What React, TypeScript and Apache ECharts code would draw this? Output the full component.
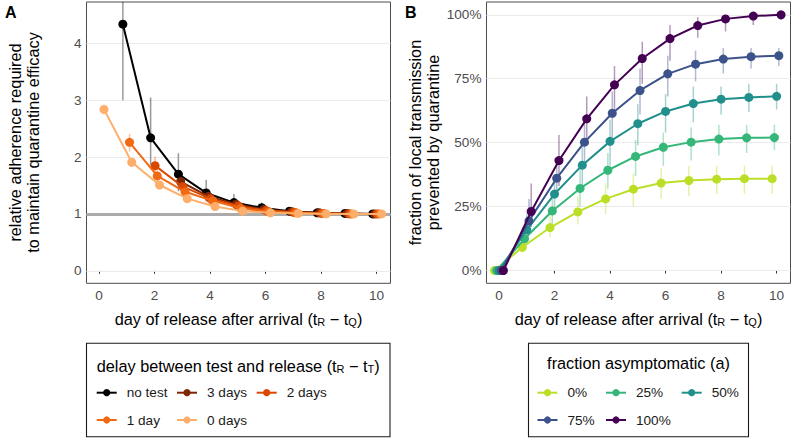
import React, { useEffect, useRef } from "react";
import * as echarts from "echarts";

// ---------- data ----------
const DAYS = [0, 1, 2, 3, 4, 5, 6, 7, 8, 9, 10];
const X_TICKS = [0, 2, 4, 6, 8, 10];
const A_Y_TICKS = [0, 1, 2, 3, 4];
const B_Y_TICKS = [0, 0.25, 0.5, 0.75, 1];
const B_Y_LABELS = ["0%", "25%", "50%", "75%", "100%"];
const A_REFERENCE = 1;

// Panel A: relative adherence required, by delay between test and release
const DELAY_NAMES = ["no test", "3 days", "2 days", "1 day", "0 days"];
const DELAY_COLORS = ["#000000", "#7F2704", "#D94801", "#F16913", "#FDAE6B"];
const ADH_NO_TEST = [null, 4.34, 2.34, 1.7, 1.37, 1.2, 1.11, 1.05, 1.02, 1.01, 1.0];
const ADH_NO_TEST_LO = [null, 3.0, 1.86, 1.4, 1.22, 1.12, 1.06, 1.02, 1.01, 1.0, 1.0];
const ADH_NO_TEST_HI = [null, 4.8, 3.05, 2.07, 1.6, 1.35, 1.2, 1.1, 1.05, 1.02, 1.01];
const ADH_3D = [null, null, null, 1.57, 1.31, 1.17, 1.08, 1.04, 1.02, 1.01, 1.0];
const ADH_3D_LO = [null, null, null, 1.45, 1.24, 1.12, 1.05, 1.02, 1.01, 1.0, 1.0];
const ADH_3D_HI = [null, null, null, 1.72, 1.4, 1.23, 1.12, 1.06, 1.03, 1.02, 1.01];
const ADH_2D = [null, null, 1.85, 1.48, 1.27, 1.14, 1.06, 1.03, 1.01, 1.0, 1.0];
const ADH_2D_LO = [null, null, 1.7, 1.4, 1.22, 1.1, 1.04, 1.02, 1.0, 1.0, 1.0];
const ADH_2D_HI = [null, null, 2.01, 1.58, 1.33, 1.18, 1.09, 1.04, 1.02, 1.01, 1.0];
const ADH_1D = [null, 2.26, 1.67, 1.39, 1.23, 1.1, 1.04, 1.02, 1.01, 1.0, 1.0];
const ADH_1D_LO = [null, 2.1, 1.55, 1.32, 1.18, 1.07, 1.03, 1.01, 1.0, 1.0, 1.0];
const ADH_1D_HI = [null, 2.41, 1.8, 1.47, 1.28, 1.14, 1.06, 1.03, 1.01, 1.01, 1.0];
const ADH_0D = [2.84, 1.91, 1.51, 1.27, 1.13, 1.05, 1.02, 1.01, 1.0, 1.0, 1.0];
const ADH_0D_LO = [2.75, 1.84, 1.45, 1.23, 1.1, 1.04, 1.01, 1.0, 1.0, 1.0, 1.0];
const ADH_0D_HI = [2.93, 1.99, 1.57, 1.31, 1.16, 1.07, 1.03, 1.01, 1.01, 1.0, 1.0];

// Panel B: fraction of local transmission prevented, by fraction asymptomatic
const ASYM_NAMES = ["0%", "25%", "50%", "75%", "100%"];
const ASYM_COLORS = ["#BBDF27", "#35B779", "#21908C", "#3B528B", "#440154"];
const PREV_0 = [0, 0.091, 0.168, 0.229, 0.28, 0.318, 0.342, 0.352, 0.357, 0.359, 0.359];
const PREV_0_LO = [0, 0.07, 0.13, 0.18, 0.22, 0.25, 0.28, 0.29, 0.3, 0.3, 0.3];
const PREV_0_HI = [0, 0.12, 0.22, 0.29, 0.34, 0.38, 0.4, 0.41, 0.41, 0.41, 0.41];
const PREV_25 = [0, 0.124, 0.233, 0.321, 0.392, 0.446, 0.482, 0.502, 0.514, 0.519, 0.52];
const PREV_25_LO = [0, 0.09, 0.18, 0.25, 0.32, 0.37, 0.41, 0.43, 0.45, 0.46, 0.47];
const PREV_25_HI = [0, 0.17, 0.3, 0.4, 0.46, 0.51, 0.54, 0.56, 0.57, 0.57, 0.57];
const PREV_50 = [0, 0.159, 0.299, 0.412, 0.505, 0.574, 0.622, 0.653, 0.67, 0.677, 0.681];
const PREV_50_LO = [0, 0.12, 0.23, 0.32, 0.41, 0.49, 0.54, 0.58, 0.61, 0.62, 0.63];
const PREV_50_HI = [0, 0.22, 0.37, 0.5, 0.59, 0.65, 0.69, 0.72, 0.72, 0.73, 0.73];
const PREV_75 = [0, 0.194, 0.361, 0.502, 0.615, 0.704, 0.769, 0.807, 0.827, 0.836, 0.84];
const PREV_75_LO = [0, 0.15, 0.29, 0.4, 0.52, 0.61, 0.68, 0.74, 0.77, 0.79, 0.8];
const PREV_75_HI = [0, 0.28, 0.44, 0.6, 0.7, 0.79, 0.84, 0.86, 0.87, 0.87, 0.87];
const PREV_100 = [0, 0.231, 0.43, 0.593, 0.726, 0.829, 0.907, 0.958, 0.984, 0.995, 1.0];
const PREV_100_LO = [0, 0.17, 0.33, 0.5, 0.63, 0.73, 0.82, 0.91, 0.935, 0.96, 0.98];
const PREV_100_HI = [0, 0.34, 0.53, 0.68, 0.8, 0.895, 0.96, 0.99, 1.0, 1.0, 1.0];

const A_SERIES = [
  { v: ADH_NO_TEST, lo: ADH_NO_TEST_LO, hi: ADH_NO_TEST_HI },
  { v: ADH_3D, lo: ADH_3D_LO, hi: ADH_3D_HI },
  { v: ADH_2D, lo: ADH_2D_LO, hi: ADH_2D_HI },
  { v: ADH_1D, lo: ADH_1D_LO, hi: ADH_1D_HI },
  { v: ADH_0D, lo: ADH_0D_LO, hi: ADH_0D_HI },
];
const B_SERIES = [
  { v: PREV_0, lo: PREV_0_LO, hi: PREV_0_HI },
  { v: PREV_25, lo: PREV_25_LO, hi: PREV_25_HI },
  { v: PREV_50, lo: PREV_50_LO, hi: PREV_50_HI },
  { v: PREV_75, lo: PREV_75_LO, hi: PREV_75_HI },
  { v: PREV_100, lo: PREV_100_LO, hi: PREV_100_HI },
];

// ---------- styling ----------
const FONT = "'Liberation Sans', Arial, Helvetica, sans-serif";
const DODGE_A = [-0.14, -0.06, 0.02, 0.1, 0.18];
const DODGE_B = [-0.16, -0.08, 0, 0.08, 0.16];
const TITLE_SIZE = 16.3;
const TICK_SIZE = 13.6;

function pts(vals: (number | null)[], dodge: number) {
  const out: number[][] = [];
  vals.forEach((v, i) => {
    if (v !== null) out.push([DAYS[i] + dodge, v]);
  });
  return out;
}
function errs(lo: (number | null)[], hi: (number | null)[], dodge: number) {
  const out: number[][] = [];
  lo.forEach((l, i) => {
    const h = hi[i];
    if (l !== null && h !== null) out.push([DAYS[i] + dodge, l, h]);
  });
  return out;
}

function xAxis(gridIndex: number) {
  return {
    type: "value",
    gridIndex,
    min: -0.45,
    max: 10.5,
    axisLine: { show: false },
    splitLine: { show: false },
    axisTick: { show: true, length: 3, lineStyle: { color: "#333", width: 1 }, customValues: X_TICKS },
    axisLabel: { customValues: X_TICKS, color: "#4d4d4d", fontSize: TICK_SIZE, fontFamily: FONT, margin: 5 },
  };
}
function yAxis(gridIndex: number, min: number, max: number, ticks: number[], fmt: (v: number) => string) {
  return {
    type: "value",
    gridIndex,
    min,
    max,
    axisLine: { show: false },
    splitLine: { show: false },
    axisTick: { show: true, length: 3, lineStyle: { color: "#333", width: 1 }, customValues: ticks },
    axisLabel: { customValues: ticks, formatter: fmt, color: "#4d4d4d", fontSize: TICK_SIZE, fontFamily: FONT, margin: 5 },
  };
}

function errorSeries(axisIdx: number, data: number[][], color: string, z: number) {
  return {
    type: "custom",
    xAxisIndex: axisIdx,
    yAxisIndex: axisIdx,
    data,
    clip: true,
    silent: true,
    z,
    renderItem: (_p: any, api: any) => {
      const x = api.value(0);
      const a = api.coord([x, api.value(1)]);
      const b = api.coord([x, api.value(2)]);
      return {
        type: "line",
        shape: { x1: a[0], y1: a[1], x2: b[0], y2: b[1] },
        style: { stroke: color, lineWidth: 1.5, opacity: 0.4 },
      };
    },
  };
}
function lineSeries(axisIdx: number, data: number[][], color: string, z: number) {
  return {
    type: "line",
    xAxisIndex: axisIdx,
    yAxisIndex: axisIdx,
    data,
    symbol: "circle",
    symbolSize: 9,
    showSymbol: true,
    lineStyle: { color, width: 2 },
    itemStyle: { color, borderWidth: 0 },
    emphasis: { disabled: true },
    silent: true,
    z,
  };
}

function subTitle(pre: string, s1: string, s2: string) {
  return `{n|${pre}(t}{s|${s1}}{n| \u2212 t}{s|${s2}}{n|)}`;
}
const RICH = {
  n: { fontSize: TITLE_SIZE, fontFamily: FONT, lineHeight: 22, verticalAlign: "bottom", fill: "#000", color: "#000" },
  s: { fontSize: 11, fontFamily: FONT, lineHeight: 8, verticalAlign: "bottom", fill: "#000", color: "#000" },
};

function legendGraphics(
  names: string[],
  colors: string[],
  box: { x: number; y: number; w: number; h: number },
  titleText: string,
  titleRich: boolean,
  cols: number[],
  rows: number[],
) {
  const els: any[] = [];
  els.push({
    type: "rect",
    shape: { x: box.x, y: box.y, width: box.w, height: box.h },
    style: { fill: "#fff", stroke: "#1a1a1a", lineWidth: 1.1 },
    silent: true,
  });
  els.push({
    type: "text",
    x: box.x + box.w / 2,
    y: box.y + 20,
    silent: true,
    style: titleRich
      ? { text: titleText, rich: RICH, align: "center", verticalAlign: "middle", fontFamily: FONT, fontSize: TITLE_SIZE }
      : { text: titleText, align: "center", verticalAlign: "middle", fontFamily: FONT, fontSize: TITLE_SIZE, fill: "#000" },
  });
  names.forEach((name, i) => {
    const cx = cols[i % cols.length];
    const cy = rows[Math.floor(i / cols.length)];
    els.push({ type: "line", shape: { x1: cx - 10, y1: cy, x2: cx + 10, y2: cy }, style: { stroke: colors[i], lineWidth: 2 }, silent: true });
    els.push({ type: "circle", shape: { cx, cy, r: 3.6 }, style: { fill: colors[i] }, silent: true });
    els.push({
      type: "text",
      x: cx + 20,
      y: cy,
      silent: true,
      style: { text: name, fontFamily: FONT, fontSize: TICK_SIZE, fill: "#1a1a1a", verticalAlign: "middle", align: "left" },
    });
  });
  return els;
}

export default function App() {
  const ref = useRef<HTMLDivElement>(null);
  useEffect(() => {
    if (!ref.current) return;
    const chart = echarts.init(ref.current, undefined, { renderer: "svg" });

    const series: any[] = [];
    // grid lines + reference line (panel A)
    series.push({
      type: "line",
      xAxisIndex: 0,
      yAxisIndex: 0,
      data: [],
      silent: true,
      z: 1,
      markLine: {
        silent: true,
        symbol: ["none", "none"],
        label: { show: false },
        lineStyle: { color: "#ebebeb", width: 1, type: "solid" },
        data: A_Y_TICKS.map((v) => ({ yAxis: v })),
        z: 1,
      },
    });
    series.push({
      type: "line",
      xAxisIndex: 0,
      yAxisIndex: 0,
      data: [],
      silent: true,
      z: 2,
      markLine: {
        silent: true,
        symbol: ["none", "none"],
        label: { show: false },
        lineStyle: { color: "#ababab", width: 3, type: "solid" },
        data: [{ yAxis: A_REFERENCE }],
        z: 2,
      },
    });
    series.push({
      type: "line",
      xAxisIndex: 1,
      yAxisIndex: 1,
      data: [],
      silent: true,
      z: 1,
      markLine: {
        silent: true,
        symbol: ["none", "none"],
        label: { show: false },
        lineStyle: { color: "#ebebeb", width: 1, type: "solid" },
        data: B_Y_TICKS.map((v) => ({ yAxis: v })),
        z: 1,
      },
    });
    A_SERIES.forEach((s, i) => series.push(errorSeries(0, errs(s.lo, s.hi, DODGE_A[i]), DELAY_COLORS[i], 3)));
    A_SERIES.forEach((s, i) => series.push(lineSeries(0, pts(s.v, DODGE_A[i]), DELAY_COLORS[i], 4 + i)));
    B_SERIES.forEach((s, i) => series.push(errorSeries(1, errs(s.lo, s.hi, DODGE_B[i]), ASYM_COLORS[i], 3)));
    B_SERIES.forEach((s, i) => series.push(lineSeries(1, pts(s.v, DODGE_B[i]), ASYM_COLORS[i], 4 + i)));

    const graphic: any[] = [
      { type: "text", x: 5, y: 4, silent: true, style: { text: "A", fontFamily: FONT, fontSize: 16, fontWeight: "bold", fill: "#000" } },
      { type: "text", x: 405, y: 4, silent: true, style: { text: "B", fontFamily: FONT, fontSize: 16, fontWeight: "bold", fill: "#000" } },
      {
        type: "text", x: 24, y: 142.5, rotation: Math.PI / 2, silent: true,
        style: { text: "relative adherence required\nto maintain quarantine efficacy", fontFamily: FONT, fontSize: TITLE_SIZE, lineHeight: 18, align: "center", verticalAlign: "middle", fill: "#000" },
      },
      {
        type: "text", x: 424, y: 142.5, rotation: Math.PI / 2, silent: true,
        style: { text: "fraction of local transmission\nprevented by quarantine", fontFamily: FONT, fontSize: TITLE_SIZE, lineHeight: 18, align: "center", verticalAlign: "middle", fill: "#000" },
      },
      {
        type: "text", x: 238.5, y: 316, silent: true,
        style: { text: subTitle("day of release after arrival ", "R", "Q"), rich: RICH, align: "center", verticalAlign: "middle", fontFamily: FONT, fontSize: TITLE_SIZE },
      },
      {
        type: "text", x: 638.5, y: 316, silent: true,
        style: { text: subTitle("day of release after arrival ", "R", "Q"), rich: RICH, align: "center", verticalAlign: "middle", fontFamily: FONT, fontSize: TITLE_SIZE },
      },
      ...legendGraphics(
        DELAY_NAMES, DELAY_COLORS,
        { x: 86.5, y: 343.3, w: 303.5, h: 93.4 },
        subTitle("delay between test and release ", "R", "T"), true,
        [106.7, 187, 266.7], [392.7, 420],
      ),
      ...legendGraphics(
        ASYM_NAMES, ASYM_COLORS,
        { x: 528.5, y: 343.3, w: 220, h: 93.4 },
        "fraction asymptomatic (a)", false,
        [547.5, 616, 691.7], [392.7, 420],
      ),
    ];

    chart.setOption({
      animation: false,
      backgroundColor: "#ffffff",
      textStyle: { fontFamily: FONT },
      grid: [
        { left: 86.5, top: 2, width: 304, height: 281.3, show: true, borderColor: "#4d4d4d", borderWidth: 1, backgroundColor: "transparent", containLabel: false },
        { left: 486.5, top: 2, width: 304, height: 281.3, show: true, borderColor: "#4d4d4d", borderWidth: 1, backgroundColor: "transparent", containLabel: false },
      ],
      xAxis: [xAxis(0), xAxis(1)],
      yAxis: [
        yAxis(0, -0.22, 4.73, A_Y_TICKS, (v: number) => String(v)),
        yAxis(1, -0.05, 1.05, B_Y_TICKS, (v: number) => {
          const idx = B_Y_TICKS.indexOf(v);
          return idx >= 0 ? B_Y_LABELS[idx] : "";
        }),
      ],
      series,
      graphic,
    });
    return () => chart.dispose();
  }, []);
  return <div ref={ref} style={{ position: "absolute", left: 0, top: 0, width: 791, height: 439 }} />;
}
